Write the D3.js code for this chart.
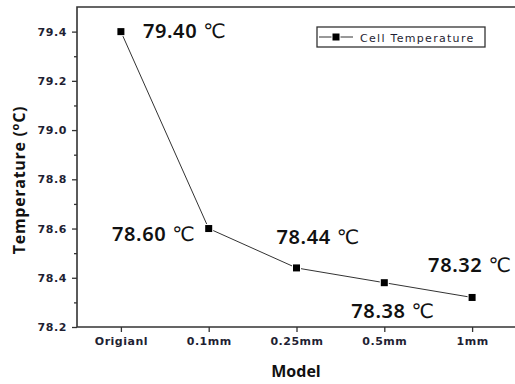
<!DOCTYPE html>
<html>
<head>
<meta charset="utf-8">
<title>cell temperature</title>
<style>
  body { margin: 0; background: #fff; }
  svg { display: block; }
</style>
</head>
<body>
<svg width="515" height="384"></svg>
<script src="https://cdn.jsdelivr.net/npm/d3@7"></script>
<script>

var models = ["Origianl", "0.1mm", "0.25mm", "0.5mm", "1mm"];
var temps = [79.40, 78.60, 78.44, 78.38, 78.32];
var valueLabels = ["79.40", "78.60", "78.44", "78.38", "78.32"];
var unit = "\u2103";
var yTicks = [78.2, 78.4, 78.6, 78.8, 79.0, 79.2, 79.4];
var yMinorTicks = [78.3, 78.5, 78.7, 78.9, 79.1, 79.3];
var seriesName = "Cell Temperature";

// where each value label sits relative to its point
var labelPlace = [
  {dx: 22, dy: 6, anchor: "start"},
  {dx: -14, dy: 12, anchor: "end"},
  {dx: -20, dy: -24, anchor: "start"},
  {dx: -33, dy: 35, anchor: "start"},
  {dx: -44, dy: -25, anchor: "start"}
];

var svg = d3.select("svg"),
    margin = {top: 7, right: -1, bottom: 57, left: 77},
    width = +svg.attr("width") - margin.left - margin.right,
    height = +svg.attr("height") - margin.top - margin.bottom,
    g = svg.append("g").attr("transform", "translate(" + margin.left + "," + margin.top + ")");

var axisColor = "#333";
var textColor = "#1f1f33";

var data = models.map(function(m, i) { return {model: m, temp: temps[i]}; });

var x = d3.scalePoint()
    .domain(models)
    .range([0, width])
    .padding(0.5);

var y = d3.scaleLinear()
    .domain([78.2, 79.5])
    .range([height, 0]);

// x axis
var xAxis = g.append("g")
    .attr("transform", "translate(0," + height + ")")
    .call(d3.axisBottom(x).tickSize(5).tickPadding(5));
xAxis.select(".domain").remove();
xAxis.selectAll("line").attr("stroke", axisColor).attr("stroke-width", 1.3);
xAxis.selectAll("text")
    .attr("fill", textColor)
    .style("font", "bold 11px 'DejaVu Sans'")
    .style("letter-spacing", "0.5px");

// y axis
var yAxis = g.append("g")
    .call(d3.axisLeft(y).tickValues(yTicks).tickSize(5).tickPadding(5).tickFormat(d3.format(".1f")));
yAxis.select(".domain").remove();
yAxis.selectAll("line").attr("stroke", axisColor).attr("stroke-width", 1.3);
yAxis.selectAll("text")
    .attr("fill", textColor)
    .style("font", "bold 11px 'DejaVu Sans'")
    .style("letter-spacing", "0.6px");

g.append("g")
    .call(d3.axisLeft(y).tickValues(yMinorTicks).tickSize(3).tickFormat(""))
  .call(function(s) { s.select(".domain").remove(); })
  .selectAll("line").attr("stroke", axisColor).attr("stroke-width", 1.3);

// frame
g.append("path")
    .attr("fill", "none")
    .attr("stroke", axisColor)
    .attr("stroke-width", 1.6)
    .attr("d", "M" + width + ",0H0V" + height + "H" + width + "V0");

// axis titles
var yTitle = svg.append("text")
    .attr("transform", "translate(25,180) rotate(-90)")
    .attr("text-anchor", "middle")
    .attr("fill", "#111")
    .style("font", "bold 16px 'Open Sans'")
    .style("letter-spacing", "0.7px");
yTitle.append("tspan").text("Temperature (");
yTitle.append("tspan").attr("dy", -6).style("font-size", "11px").text("o");
yTitle.append("tspan").attr("dy", 6).text("C)");

svg.append("text")
    .attr("x", 296)
    .attr("y", 377)
    .attr("text-anchor", "middle")
    .attr("fill", "#111")
    .style("font", "bold 16px 'Open Sans'")
    .text("Model");

// series line
var line = d3.line()
    .x(function(d) { return x(d.model); })
    .y(function(d) { return y(d.temp); });

g.append("path")
    .datum(data)
    .attr("fill", "none")
    .attr("stroke", "#333")
    .attr("stroke-width", 1)
    .attr("d", line);

g.selectAll(".pt")
    .data(data)
  .enter().append("rect")
    .attr("class", "pt")
    .attr("x", function(d) { return x(d.model) - 3.5; })
    .attr("y", function(d) { return y(d.temp) - 3.5; })
    .attr("width", 7)
    .attr("height", 7)
    .attr("fill", "#000")
    .attr("stroke", "#fff")
    .attr("stroke-width", 2)
    .attr("paint-order", "stroke");

// value labels
var vals = g.selectAll(".val")
    .data(data)
  .enter().append("text")
    .attr("class", "val")
    .attr("x", function(d, i) { return x(d.model) + labelPlace[i].dx; })
    .attr("y", function(d, i) { return y(d.temp) + labelPlace[i].dy; })
    .attr("text-anchor", function(d, i) { return labelPlace[i].anchor; })
    .attr("fill", "#111")
    .style("font", "600 20px 'Noto Sans'");
vals.append("tspan")
    .style("letter-spacing", "0.6px")
    .text(function(d, i) { return valueLabels[i]; });
vals.append("tspan")
    .attr("dx", 6)
    .style("font", "20px 'DejaVu Sans'")
    .text(unit);

// legend
var lg = svg.append("g").attr("transform", "translate(317,27)");
lg.append("rect")
    .attr("width", 168)
    .attr("height", 20)
    .attr("fill", "#fff")
    .attr("stroke", "#333")
    .attr("stroke-width", 1.3);
lg.append("line")
    .attr("x1", 2).attr("x2", 36)
    .attr("y1", 10).attr("y2", 10)
    .attr("stroke", "#333").attr("stroke-width", 1);
lg.append("rect")
    .attr("x", 15.5).attr("y", 6.5)
    .attr("width", 7).attr("height", 7)
    .attr("fill", "#000")
    .attr("stroke", "#fff").attr("stroke-width", 2)
    .attr("paint-order", "stroke");
lg.append("text")
    .attr("x", 43)
    .attr("y", 14.5)
    .attr("fill", textColor)
    .style("font", "11px 'DejaVu Sans'")
    .style("letter-spacing", "1.3px")
    .text(seriesName);

</script>
</body>
</html>
